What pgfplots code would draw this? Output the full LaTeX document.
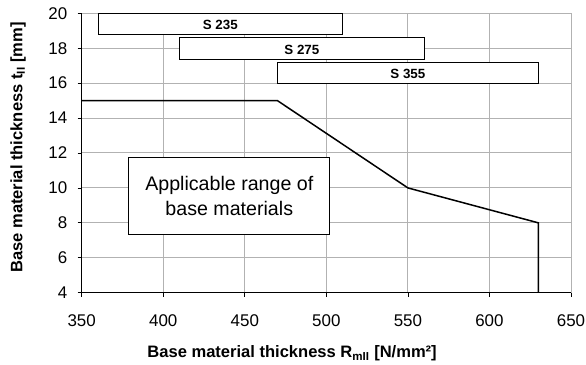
\documentclass[border=0pt]{standalone}
\usepackage{fontspec}
\setmainfont{Liberation Sans}
\usepackage{pgfplots}
\pgfplotsset{compat=1.18}
\begin{document}
\begin{tikzpicture}
\path[use as bounding box] (-81.7bp,-72.3bp) rectangle (504.3bp,292.7bp);
\begin{axis}[
  at={(0,0)}, anchor=south west,
  scale only axis, width=489.3bp, height=279.4bp,
  xmin=350, xmax=650, ymin=4, ymax=20,
  xtick={350,400,...,650}, ytick={4,6,...,20},
  xtick pos=bottom, ytick pos=left,
  tick align=outside, major tick length=4bp,
  tick style={black, line width=0.8bp},
  grid=major, major grid style={draw=black!30, line width=1bp},
  axis line style={draw=black!30, line width=1bp},
  clip=false,
  /pgf/number format/assume math mode=true,
  ticklabel style={font=\fontsize{17}{19}\selectfont},
  xticklabel style={yshift=-14bp},
  yticklabel style={xshift=-7bp},
  xlabel={Base material thickness R\textsubscript{mII} [N/mm²]},
  ylabel={Base material thickness t\textsubscript{II} [mm]},
  label style={font=\bfseries\fontsize{16.6}{19}\selectfont},
  xlabel style={at={(axis description cs:0.43,-0.2326)}, anchor=base},
  ylabel style={at={(axis description cs:-0.1302,0.5197)}, anchor=center},
]
\draw[black, line width=1bp] (rel axis cs:0,1) -- (rel axis cs:0,0) -- (rel axis cs:1,0);
\addplot[black, line width=1.5bp, mark=none] coordinates {(350,15) (470,15) (550,10) (630,8) (630,4)};
\draw[fill=white, line width=1bp] (axis cs:360,18.8) rectangle (axis cs:510,20)
  node[midway, yshift=-1bp, font=\bfseries\fontsize{13.4}{15}\selectfont] {S 235};
\draw[fill=white, line width=1bp] (axis cs:410,17.35) rectangle (axis cs:560,18.6)
  node[midway, yshift=-1bp, font=\bfseries\fontsize{13.4}{15}\selectfont] {S 275};
\draw[fill=white, line width=1bp] (axis cs:470,16.0) rectangle (axis cs:630,17.2)
  node[midway, yshift=-1bp, font=\bfseries\fontsize{13.4}{15}\selectfont] {S 355};
\draw[fill=white, line width=1bp] (axis cs:379,7.32) rectangle (axis cs:502,11.75)
  node[midway, align=center, font=\fontsize{19.7}{25}\selectfont] {Applicable range of\\base materials};
\end{axis}
\end{tikzpicture}
\end{document}
